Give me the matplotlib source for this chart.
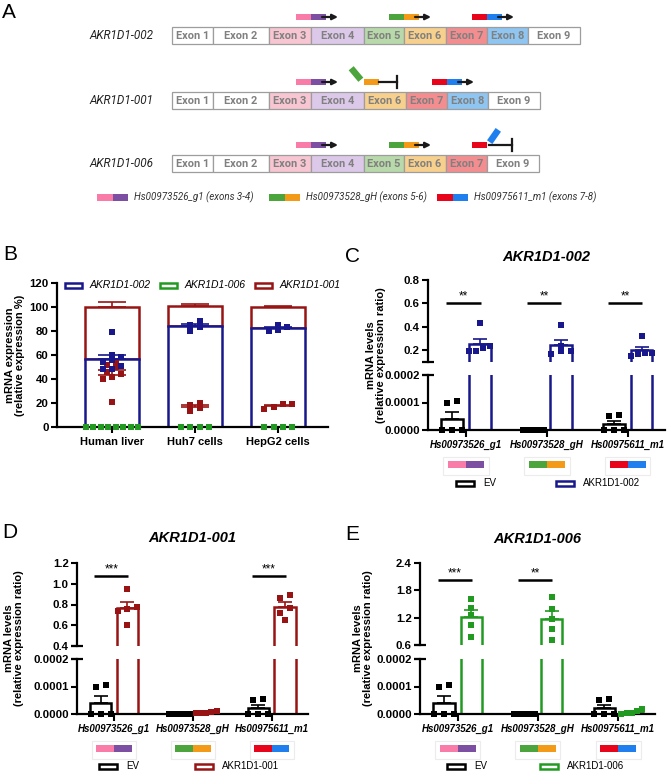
import numpy as np
import matplotlib
matplotlib.use("Agg")
import matplotlib.pyplot as plt
from matplotlib.patches import Rectangle
from matplotlib.transforms import blended_transform_factory

plt.rcParams["font.family"] = ["Liberation Sans", "DejaVu Sans"]

W, H = 667, 771

# ─── data ──────────────────────────────────────────────────────────────────────
TRANSCRIPTS = ["AKR1D1-002", "AKR1D1-001", "AKR1D1-006"]
TRANSCRIPT_EXONS = [
    [1, 2, 3, 4, 5, 6, 7, 8, 9],
    [1, 2, 3, 4, 6, 7, 8, 9],
    [1, 2, 3, 4, 5, 6, 7, 9],
]
PROBES = ["Hs00973526_g1", "Hs00973528_gH", "Hs00975611_m1"]
PROBE_EXONS = [(3, 4), (5, 6), (7, 8)]

CELL_TYPES = ["Human liver", "Huh7 cells", "HepG2 cells"]
B_002 = [[48, 58, 51, 79, 56, 60, 48, 54], [80, 88, 85, 83], [80, 85, 83, 81]]
B_006 = [[0, 0, 0, 0, 0, 0, 0, 0], [0, 0, 0, 0], [0, 0, 0, 0]]
B_001 = [[44, 52, 46, 21, 40, 53, 42, 50], [20, 13, 16, 18], [19, 15, 19, 17]]

EV_PTS = [[0.000105, 0.0001, 0, 0, 0], [0, 0, 0, 0, 0], [0.000055, 0.00005, 0, 0, 0]]
C_PTS = [[0.43, 0.24, 0.22, 0.19, 0.19], [0.42, 0.24, 0.19, 0.19, 0.17], [0.32, 0.18, 0.18, 0.17, 0.15]]
D_PTS = [[0.95, 0.78, 0.76, 0.74, 0.6], [0.000005, 0.00001, 0.000005, 0.000003, 0.000008],
         [0.89, 0.86, 0.77, 0.72, 0.65]]
E_PTS = [[1.6, 1.42, 1.25, 1.05, 0.78], [1.65, 1.38, 1.18, 0.95, 0.72],
         [0.00001, 0.00002, 0.000005, 0, 0.000005]]
C_SIG = ["**", "**", "**"]
D_SIG = ["***", "", "***"]
E_SIG = ["***", "**", ""]

# ─── styles ────────────────────────────────────────────────────────────────────
NAVY, DARKRED, GREEN = "#18188c", "#981414", "#229a22"
EXON_PX = [41, 56, 42, 53, 40, 42, 41, 41, 52]
EXON_FILL = ["white", "white", "#f8c6d2", "#dcc8e9", "#b8d9a9", "#f8d08d",
             "#f38d8f", "#8ec5f1", "white"]
PROBE_COLORS = [("#f97ca8", "#7d4fa3"), ("#4ca43c", "#f39a18"), ("#e8051c", "#1f7fef")]

fig = plt.figure(figsize=(W / 100, H / 100), dpi=100)


def px_axes(x0, y0, x1, y1):
    ax = fig.add_axes([x0 / W, 1 - y1 / H, (x1 - x0) / W, (y1 - y0) / H])
    ax.patch.set_alpha(0)
    return ax


def mean_sem(v):
    v = np.asarray(v, float)
    return v.mean(), (v.std(ddof=1) / np.sqrt(len(v)) if len(v) > 1 else 0.0)


def swarm_offsets(vals, tol, step, span):
    vals = np.asarray(vals, float)
    offs = np.zeros(len(vals))
    if len(vals) == 0:
        return offs
    order = np.argsort(vals, kind="stable")
    groups, cur = [], [order[0]]
    for i in order[1:]:
        if vals[i] - vals[cur[0]] <= tol:
            cur.append(i)
        else:
            groups.append(cur)
            cur = [i]
    groups.append(cur)
    for g in groups:
        k = len(g)
        st = step if k < 2 else min(step, span / (k - 1))
        for j, i in enumerate(g):
            offs[i] = (j - (k - 1) / 2) * st
    return offs


# ─── B ─────────────────────────────────────────────────────────────────────────
axB = px_axes(57, 283, 328, 427)
xb = np.arange(len(CELL_TYPES))
for i in xb:
    m2, s2 = mean_sem(B_002[i])
    m6, s6 = mean_sem(B_006[i])
    m1, s1 = mean_sem(B_001[i])
    axB.bar(i, m1, bottom=m2 + m6, width=0.65, facecolor="white", edgecolor=DARKRED, lw=1.8, zorder=2)
    if m6 > 0.5:
        axB.bar(i, m6, bottom=m2, width=0.65, facecolor="white", edgecolor=GREEN, lw=1.8, zorder=2.2)
    axB.bar(i, m2, width=0.65, facecolor="white", edgecolor=NAVY, lw=1.8, zorder=2.5)
    axB.errorbar(i, m2 + m6 + m1, yerr=[[0], [s1]], fmt="none", ecolor=DARKRED,
                 capsize=10, elinewidth=1.2, capthick=1.2, zorder=1.5)
    axB.errorbar(i, m2, yerr=[[0], [s2]], fmt="none", ecolor=NAVY,
                 capsize=10, elinewidth=1.2, capthick=1.2, zorder=3)
    axB.errorbar(i, m1, yerr=[[0], [s1]], fmt="none", ecolor=DARKRED,
                 capsize=10, elinewidth=1.2, capthick=1.2, zorder=3)
    for vals, col in [(B_001[i], DARKRED), (B_002[i], NAVY), (B_006[i], GREEN)]:
        off = swarm_offsets(vals, 4, 0.11, 0.63)
        axB.scatter(i + off, vals, marker="s", s=13, color=col, linewidths=0,
                    zorder=4, clip_on=False)
axB.set_xlim(-0.66, 2.6)
axB.set_ylim(0, 120)
axB.set_yticks(range(0, 121, 20))
axB.set_xticks(xb)
axB.set_xticklabels(CELL_TYPES, fontsize=8, fontweight="bold")
axB.tick_params(axis="y", labelsize=8.2, length=4, width=1.5, pad=2)
axB.tick_params(axis="x", length=4, width=1.5, pad=3)
for lab in axB.get_yticklabels():
    lab.set_fontweight("bold")
for sp in ["top", "right"]:
    axB.spines[sp].set_visible(False)
for sp in ["left", "bottom"]:
    axB.spines[sp].set_linewidth(1.6)

# ─── C, D, E ───────────────────────────────────────────────────────────────────
XLIM = (-0.47, 2.46)
LO_TOP = 0.0002


def expr_panel(box, hi_lim, hi_ticks, ev_pts, tx_pts, color, sig, sig_y):
    x0, x1, hi_t, hi_b, lo_t, lo_b = box
    ax_hi = px_axes(x0, hi_t, x1, hi_b)
    ax_lo = px_axes(x0, lo_t, x1, lo_b)
    tol_hi = 6 * (hi_lim[1] - hi_lim[0]) / (hi_b - hi_t)
    tol_lo = 6 * LO_TOP / (lo_b - lo_t)
    for g in range(len(PROBES)):
        for pts, off, col in [(ev_pts[g], -0.17, "black"), (tx_pts[g], 0.17, color)]:
            m, s = mean_sem(pts)
            for ax in (ax_hi, ax_lo):
                ax.bar(g + off, m, width=0.27, facecolor="white", edgecolor=col, lw=1.8, zorder=2)
                ax.errorbar(g + off, m, yerr=[[0], [s]], fmt="none", ecolor=col,
                            capsize=5, elinewidth=1.2, capthick=1.2, zorder=2.5)
            v = np.asarray(pts, float)
            lo = v[v <= LO_TOP]
            hi = v[v >= hi_lim[0]]
            ax_lo.scatter(g + off + swarm_offsets(lo, tol_lo, 0.125, 0.26), lo, marker="s",
                          s=13, color=col, linewidths=0, zorder=4, clip_on=False)
            ax_hi.scatter(g + off + swarm_offsets(hi, tol_hi, 0.125, 0.26), hi, marker="s",
                          s=13, color=col, linewidths=0, zorder=4, clip_on=False)
        if sig[g]:
            ax_hi.plot([g - 0.25, g + 0.18], [sig_y, sig_y], color="black", lw=1.8,
                       solid_capstyle="butt")
            ax_hi.annotate(sig[g], xy=(g - 0.035, sig_y), xytext=(0, 0.5),
                           textcoords="offset points", ha="center", va="bottom", fontsize=8.5)

    for ax in (ax_hi, ax_lo):
        ax.set_xlim(*XLIM)
        for sp in ["top", "right"]:
            ax.spines[sp].set_visible(False)
        for sp in ["left", "bottom"]:
            ax.spines[sp].set_linewidth(1.6)
        ax.tick_params(axis="y", labelsize=8.2, length=4, width=1.5, pad=2)
    ax_hi.spines["bottom"].set_visible(False)
    ax_hi.set_xticks([])
    ax_hi.set_ylim(*hi_lim)
    ax_hi.set_yticks(hi_ticks)
    ax_hi.set_yticklabels([f"{t:.1f}" for t in hi_ticks])
    ax_lo.set_ylim(0, LO_TOP)
    ax_lo.set_yticks([0, 0.0001, 0.0002])
    ax_lo.set_yticklabels(["0.0000", "0.0001", "0.0002"])
    ax_lo.set_xticks(range(len(PROBES)))
    ax_lo.set_xticklabels(PROBES, fontsize=7, fontweight="bold", fontstyle="italic")
    ax_lo.tick_params(axis="x", length=5, width=1.5, pad=2)
    for ax in (ax_hi, ax_lo):
        for lab in ax.get_yticklabels():
            lab.set_fontweight("bold")

    # axis break marks
    ax_hi.plot([0], [hi_lim[0]], marker="_", ms=8, mew=1.6, color="black", clip_on=False,
               transform=blended_transform_factory(ax_hi.transAxes, ax_hi.transData))
    ax_lo.plot([0], [LO_TOP], marker="_", ms=8, mew=1.6, color="black", clip_on=False,
               transform=blended_transform_factory(ax_lo.transAxes, ax_lo.transData))

    # primer colour swatches under the categories
    hpx = lo_b - lo_t
    tr = blended_transform_factory(ax_lo.transData, ax_lo.transAxes)
    for g, (c1, c2) in enumerate(PROBE_COLORS):
        ax_lo.add_patch(Rectangle((g - 0.28, -45 / hpx), 0.56, 18 / hpx, transform=tr,
                                  facecolor="none", edgecolor="#ececec", lw=0.8, clip_on=False))
        ax_lo.add_patch(Rectangle((g - 0.225, -38 / hpx), 0.225, 7 / hpx, transform=tr,
                                  facecolor=c1, edgecolor="none", clip_on=False))
        ax_lo.add_patch(Rectangle((g, -38 / hpx), 0.225, 7 / hpx, transform=tr,
                                  facecolor=c2, edgecolor="none", clip_on=False))
    return ax_hi, ax_lo


expr_panel((428, 665, 280, 362, 375, 430), (0.1, 0.8), [0.2, 0.4, 0.6, 0.8],
           EV_PTS, C_PTS, NAVY, C_SIG, 0.6)
expr_panel((77, 308, 563, 646, 659, 714), (0.4, 1.2), [0.4, 0.6, 0.8, 1.0, 1.2],
           EV_PTS, D_PTS, DARKRED, D_SIG, 1.07)
expr_panel((420, 655, 563, 645, 659, 714), (0.6, 2.4), [0.6, 1.2, 1.8, 2.4],
           EV_PTS, E_PTS, GREEN, E_SIG, 2.03)

# ─── overlay (pixel coordinates): panel A, letters, legends, titles ───────────
ov = fig.add_axes([0, 0, 1, 1])
ov.set_xlim(0, W)
ov.set_ylim(H, 0)
ov.axis("off")
ov.patch.set_alpha(0)

ROW_TOP = [27, 92, 155]
BOX_H = 16.5
INK = "#1a1a1a"
for name, exons, top in zip(TRANSCRIPTS, TRANSCRIPT_EXONS, ROW_TOP):
    x = 172
    span = {}
    for e in exons:
        w = EXON_PX[e - 1]
        ov.add_patch(Rectangle((x, top), w, BOX_H, facecolor=EXON_FILL[e - 1],
                               edgecolor="#9d9d9d", lw=0.9))
        ov.text(x + w / 2, top + BOX_H / 2 + 0.5, f"Exon {e}", ha="center", va="center",
                fontsize=7.9, fontweight="bold", color="#808080", family="Roboto")
        span[e] = (x, x + w)
        x += w
    ov.text(153, top + BOX_H / 2, name, ha="right", va="center", fontsize=8.5,
            style="italic", family="Roboto", color="#222222")
    cy = top - 10
    hw, hh = 15, 6.5
    for (a, b), (ca, cb) in zip(PROBE_EXONS, PROBE_COLORS):
        if a in span and b in span:
            j = span[a][1]
            ov.add_patch(Rectangle((j - hw, cy - hh / 2), hw, hh, facecolor=ca, lw=0))
            ov.add_patch(Rectangle((j, cy - hh / 2), hw, hh, facecolor=cb, lw=0))
            ov.annotate("", xy=(j + hw + 12, cy), xytext=(j + hw - 4, cy),
                        arrowprops=dict(arrowstyle="-|>", color=INK, lw=1.6,
                                        mutation_scale=8, shrinkA=0, shrinkB=0))
        elif b in span:
            j = span[b][0]
            ov.add_patch(Rectangle((j, cy - hh / 2), hw, hh, facecolor=cb, lw=0))
            ov.add_patch(Rectangle((j - 8 - hw / 2, cy - 8 - hh / 2), hw, hh, angle=50,
                                   rotation_point="center", facecolor=ca, lw=0))
            ov.plot([j + hw, j + hw + 18], [cy, cy], color=INK, lw=1.6)
            ov.plot([j + hw + 18] * 2, [cy - 6, cy + 6], color=INK, lw=1.6)
        elif a in span:
            j = span[a][1]
            ov.add_patch(Rectangle((j - hw, cy - hh / 2), hw, hh, facecolor=ca, lw=0))
            ov.add_patch(Rectangle((j + 7 - hw / 2, cy - 9 - hh / 2), hw, hh, angle=-55,
                                   rotation_point="center", facecolor=cb, lw=0))
            ov.plot([j + 2, j + 25], [cy, cy], color=INK, lw=1.6)
            ov.plot([j + 25] * 2, [cy - 6, cy + 6], color=INK, lw=1.6)

for x0, probe, (ex_a, ex_b), (ca, cb) in zip([97, 269, 437], PROBES, PROBE_EXONS, PROBE_COLORS):
    ov.add_patch(Rectangle((x0, 194), 15.5, 6.5, facecolor=ca, lw=0))
    ov.add_patch(Rectangle((x0 + 15.5, 194), 15.5, 6.5, facecolor=cb, lw=0))
    ov.text(x0 + 37, 197.5, f"{probe} (exons {ex_a}-{ex_b})", ha="left", va="center",
            fontsize=7, style="italic", family="Roboto", color="#333333")

for letter, (lx, ly) in zip("ABCDE", [(9, 13), (10, 254), (353, 256), (10, 533), (352, 534)]):
    ov.text(lx, ly, letter, ha="center", va="center", fontsize=15)

# legend of B
for bx, name, col in zip([65, 160, 255], ["AKR1D1-002", "AKR1D1-006", "AKR1D1-001"],
                         [NAVY, GREEN, DARKRED]):
    ov.add_patch(Rectangle((bx, 283), 17, 5, facecolor="white", edgecolor=col, lw=1.8))
    ov.text(bx + 25, 285.5, name, ha="left", va="center", fontsize=7.5, style="italic")

ov.text(15, 355, "mRNA expression\n(relative expression %)", rotation=90, ha="center",
        va="center", fontsize=8, fontweight="bold", linespacing=1.1)

# titles, y labels and legends for C, D, E
for cx, ty, lx, ly, ev_x, tx_x, leg_y, name, col in [
        (546, 257, 376, 355, 456, 556, 483, "AKR1D1-002", NAVY),
        (192, 538, 14, 638, 99, 195, 766, "AKR1D1-001", DARKRED),
        (537, 539, 363, 638, 447, 540, 766, "AKR1D1-006", GREEN)]:
    ov.text(cx, ty, name, ha="center", va="center", fontsize=10.5, fontweight="bold",
            style="italic")
    ov.text(lx, ly, "mRNA levels\n(relative expression ratio)", rotation=90, ha="center",
            va="center", fontsize=8, fontweight="bold", linespacing=1.1)
    ov.add_patch(Rectangle((ev_x, leg_y - 2.5), 18, 5, facecolor="white", edgecolor="black", lw=1.8))
    ov.text(ev_x + 27, leg_y, "EV", ha="left", va="center", fontsize=7)
    ov.add_patch(Rectangle((tx_x, leg_y - 2.5), 18, 5, facecolor="white", edgecolor=col, lw=1.8))
    ov.text(tx_x + 27, leg_y, name, ha="left", va="center", fontsize=7)

fig.savefig("out.png", dpi=100)
